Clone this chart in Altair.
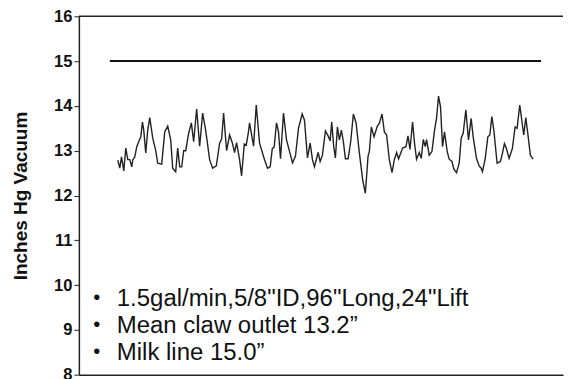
import altair as alt
import pandas as pd

# claw outlet vacuum trace (time as % of record, inches Hg)
trace_t = [7.8, 8.2, 8.54, 9.0, 9.4, 9.8, 10.2, 10.6, 10.8, 11.2, 11.6, 12.2, 12.4, 12.74, 13.0, 13.4,
           13.8, 14.2, 14.8, 15.4, 15.8, 16.6, 17.2, 17.8, 18.4, 18.8, 19.4, 19.8, 20.2, 20.6, 21.0, 21.4,
           22.0, 22.54, 23.0, 23.6, 24.2, 24.8, 25.4, 26.2, 26.8, 27.54, 28.2, 28.6, 29.0, 29.6, 30.2, 30.74,
           31.2, 31.6, 32.2, 32.6, 33.14, 33.54, 33.94, 34.2, 35.0, 35.54, 36.2, 37.2, 37.8, 38.34, 38.74,
           39.14, 39.6, 40.0, 40.4, 41.0, 41.6, 42.34, 42.8, 43.4, 44.0, 44.74, 45.2, 45.8, 46.34, 46.8,
           47.2, 47.94, 48.34, 48.8, 49.4, 49.94, 50.34, 50.66, 51.06, 51.4, 51.8, 52.2, 52.6, 53.0, 53.4,
           53.94, 54.46, 55.0, 55.54, 56.2, 56.86, 57.4, 57.94, 58.2, 58.6, 59.14, 59.8, 60.2, 60.74, 61.2,
           61.66, 62.2, 62.74, 63.2, 63.66, 64.06, 64.86, 65.54, 65.94, 66.34, 66.86, 67.26, 67.66, 68.2,
           68.6, 69.0, 69.4, 69.66, 70.2, 70.74, 71.26, 71.66, 72.06, 72.46, 72.86, 73.26, 73.8, 74.2,
           74.74, 75.14, 75.66, 76.2, 76.6, 77.0, 77.54, 78.06, 78.6, 79.0, 79.66, 80.2, 80.6, 80.86, 81.4,
           81.94, 82.34, 82.74, 83.14, 83.8, 84.46, 84.86, 85.26, 85.66, 86.2, 86.86, 87.4, 87.8, 88.34,
           88.74, 89.14, 89.54, 89.94, 90.46, 91.0]
trace_v = [12.79, 12.61, 12.86, 12.55, 13.06, 12.8, 12.8, 12.64, 12.8, 12.86, 13.09, 13.26, 13.3, 13.64,
           13.46, 12.95, 13.46, 13.74, 13.28, 13.0, 12.72, 12.7, 13.42, 13.55, 13.24, 12.61, 12.53, 13.06,
           12.64, 12.64, 13.0, 13.0, 13.39, 13.62, 13.2, 13.93, 13.1, 13.84, 13.46, 12.8, 12.61, 12.66,
           13.17, 13.26, 13.84, 13.0, 13.35, 13.18, 12.96, 13.18, 12.8, 12.44, 13.15, 13.13, 13.39, 13.62,
           13.1, 14.02, 13.17, 12.8, 12.61, 12.64, 13.04, 13.09, 13.62, 13.42, 12.82, 13.84, 13.24, 12.93,
           12.73, 12.88, 13.5, 13.82, 13.68, 12.84, 13.17, 12.8, 12.64, 12.96, 12.76, 12.9, 13.44, 13.33,
           13.22, 13.64, 13.09, 12.84, 13.53, 13.24, 13.46, 13.2, 12.82, 12.82, 13.2, 13.82, 13.62, 12.95,
           12.35, 12.05, 12.88, 12.98, 13.53, 13.31, 13.55, 13.61, 13.82, 13.42, 13.35, 12.8, 12.51, 12.8,
           12.96, 12.82, 13.06, 13.09, 13.33, 13.03, 13.64, 13.16, 12.81, 12.96, 12.83, 13.25, 13.09, 13.25,
           12.9, 12.98, 13.46, 13.72, 14.22, 13.98, 13.09, 13.42, 12.98, 12.81, 12.76, 12.59, 12.51, 12.72,
           13.28, 13.39, 13.91, 13.24, 13.72, 13.31, 12.83, 12.66, 12.61, 12.53, 12.81, 13.31, 13.35, 13.76,
           13.46, 12.72, 12.76, 12.94, 13.16, 13.05, 12.83, 13.05, 13.53, 13.5, 14.02, 13.68, 13.35, 13.74,
           13.39, 12.9, 12.81]

milk_t = [6.2, 92.6]
milk_v = [15.0, 15.0]

y_ticks = [8, 9, 10, 11, 12, 13, 14, 15, 16]
notes = ['1.5gal/min,5/8"ID,96"Long,24"Lift', 'Mean claw outlet 13.2\u201d', 'Milk line 15.0\u201d']

trace = pd.DataFrame({"t": trace_t, "v": trace_v})
milk = pd.DataFrame({"t": milk_t, "v": milk_v})

W = 485
H = 359
xs = alt.Scale(domain=[0, 97], nice=False)
ys = alt.Scale(domain=[8, 16], nice=False)

yaxis = alt.Axis(values=y_ticks, title="Inches Hg Vacuum", domain=True, domainColor="#222",
                 domainWidth=1.5, grid=False,
                 tickSize=5, tickColor="#222", labelPadding=2, labelFontSize=16.5,
                 labelFontWeight="bold", labelColor="#111", labelFont="Liberation Sans",
                 titleFont="Liberation Sans", titleFontSize=19, titleFontWeight="bold",
                 titleColor="#111", titlePadding=23)
xaxis = alt.Axis(labels=False, ticks=False, title=None, grid=False, domain=True,
                 domainColor="#222", domainWidth=1.5)

line = alt.Chart(trace).mark_line(color="#222", strokeWidth=1.4).encode(
    x=alt.X("t:Q", scale=xs, axis=xaxis),
    y=alt.Y("v:Q", scale=ys, axis=yaxis),
)

milk_line = alt.Chart(milk).mark_line(color="#111", strokeWidth=2).encode(
    x=alt.X("t:Q", scale=xs),
    y=alt.Y("v:Q", scale=ys),
)

top_border = alt.Chart(pd.DataFrame({"v": [16]})).mark_rule(color="#222", strokeWidth=1.5).encode(
    y=alt.Y("v:Q", scale=ys), x=alt.value(0), x2=alt.value(W))

layers = [line, milk_line, top_border]
base_y = [290, 317, 344]
for i, txt in enumerate(notes):
    d = pd.DataFrame({"label": [txt], "bullet": ["\u2022"]})
    layers.append(alt.Chart(d).mark_text(align="center", baseline="alphabetic", fontSize=20,
                                         font="Liberation Sans", color="#111").encode(
        x=alt.value(18), y=alt.value(base_y[i] - 2), text="bullet:N"))
    layers.append(alt.Chart(d).mark_text(align="left", baseline="alphabetic", fontSize=24,
                                         font="Liberation Sans", color="#111").encode(
        x=alt.value(38), y=alt.value(base_y[i]), text="label:N"))

chart = alt.layer(*layers).properties(
    width=W, height=H,
    padding={"left": 3, "top": 0, "right": 0, "bottom": 0},
).configure_view(stroke=None)

chart.save("out.html", embed_options={"renderer": "svg", "actions": False})
